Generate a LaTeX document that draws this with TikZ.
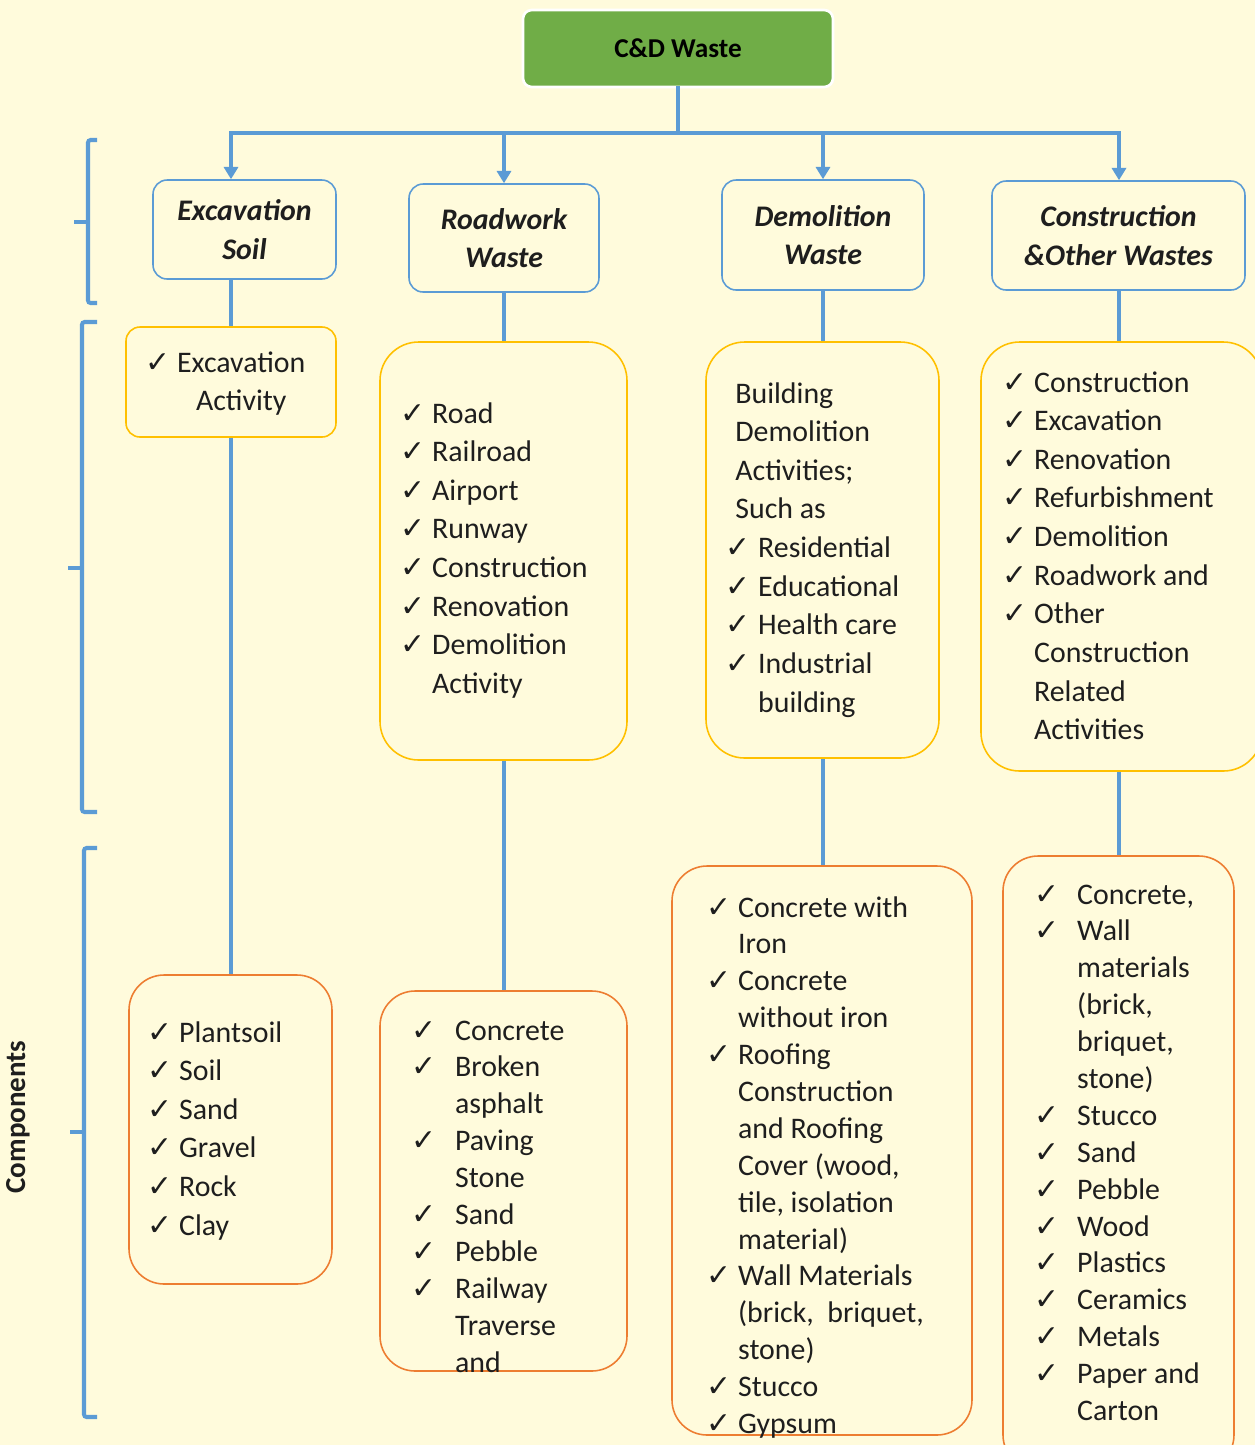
\documentclass[tikz,border=0pt]{standalone}
\usepackage{fontspec}
\setmainfont{Carlito}
\newfontfamily\ckfont{DejaVu Sans}
\usetikzlibrary{arrows.meta,fit}
\definecolor{bg}{HTML}{FFFBDC}
\definecolor{cdblue}{HTML}{5B9BD5}
\definecolor{cdgold}{HTML}{FFC000}
\definecolor{cdorange}{HTML}{ED7D31}
\definecolor{cdgreen}{HTML}{70AD47}
\definecolor{txt}{HTML}{1E1E1E}
\newcommand{\ck}{{\ckfont\fontsize{17}{22}\selectfont ✓}}
\newcommand{\cklist}[3][l]{\begin{tabular}[t]{@{}p{#2}@{}#1@{}}#3\end{tabular}}
\tikzset{
  link/.style={draw=cdblue, line width=2.3pt},
  arrow/.style={link, -{Triangle[width=8pt,length=7pt]}},
  trunk/.style={draw=cdblue, line width=2.8pt, line cap=rect},
  brace/.style={draw=cdblue, line width=2.3pt, rounded corners=1.5pt},
  topbox/.style={fill=cdgreen, draw=white, line width=1.5pt, rounded corners=5pt, inner sep=0pt,
    minimum width=6.2cm, minimum height=1.54cm,
    font=\fontsize{15.5}{18}\selectfont\bfseries, text=black},
  hbox/.style={draw=cdblue, line width=0.9pt, rounded corners=8pt, inner sep=0pt, align=center,
    font=\fontsize{17}{22}\selectfont\bfseries\itshape, text=txt},
  abox/.style={draw=cdgold, line width=0.9pt, rounded corners=#1, inner sep=0pt},
  abox/.default=22pt,
  cbox/.style={draw=cdorange, line width=0.9pt, rounded corners=#1, inner sep=0pt},
  cbox/.default=20pt,
  list/.style={anchor=base west, inner sep=0pt, text=txt, font=\fontsize{17}{#1}\selectfont},
  list/.default=22
}
\begin{document}
\begin{tikzpicture}[x=0.02cm, y=-0.02cm]
\useasboundingbox[fill=bg] (0,0) rectangle (1255,1445);

% top and the four kinds
\node[topbox] (cd) at (678,48.5) {C\&D Waste};
\node[hbox, minimum width=3.66cm, minimum height=1.98cm] (h1) at (244.5,229.5) {Excavation\\Soil};
\node[hbox, minimum width=3.8cm, minimum height=2.16cm] (h2) at (504,238) {Roadwork\\Waste};
\node[hbox, minimum width=4.04cm, minimum height=2.2cm] (h3) at (823,235) {Demolition\\Waste};
\node[hbox, minimum width=5.06cm, minimum height=2.18cm] (h4) at (1118.5,235.5) {Construction\\\&Other Wastes};

% sources
\node[abox=8pt, fit={(126,327) (336,437)}] (a1) {};
\node[abox, fit={(380,342) (627,760)}] (a2) {};
\node[abox, fit={(706,342) (939,758)}] (a3) {};
\node[abox, fit={(981,342) (1262,771)}] (a4) {};

% components
\node[cbox, fit={(129,975) (332,1284)}] (c1) {};
\node[cbox, fit={(380,991) (627,1371)}] (c2) {};
\node[cbox, fit={(672,866) (972,1435)}] (c3) {};
\node[cbox, fit={(1003,856) (1234,1470)}] (c4) {};

\node[list] (l1) at (145,372) {\cklist[c]{18.1pt}{\ck & Excavation\\ & Activity}};
\node[list] (l2) at (400,423) {\cklist{18.1pt}{\ck & Road\\ \ck & Railroad\\ \ck & Airport\\
  \ck & Runway\\ \ck & Construction\\ \ck & Renovation\\ \ck & Demolition\\ & Activity}};
\node[list] (l3) at (725,403) {\cklist{18.7pt}{\multicolumn{2}{@{\hspace{5.7pt}}l@{}}{Building}\\
  \multicolumn{2}{@{\hspace{5.7pt}}l@{}}{Demolition}\\
  \multicolumn{2}{@{\hspace{5.7pt}}l@{}}{Activities;}\\
  \multicolumn{2}{@{\hspace{5.7pt}}l@{}}{Such as}\\
  \ck & Residential\\ \ck & Educational\\ \ck & Health care\\ \ck & Industrial\\ & building}};
\node[list] (l4) at (1002,392) {\cklist{18.1pt}{\ck & Construction\\ \ck & Excavation\\
  \ck & Renovation\\ \ck & Refurbishment\\ \ck & Demolition\\ \ck & Roadwork and\\
  \ck & Other\\ & Construction\\ & Related\\ & Activities}};

\node[list] (m1) at (147,1042) {\cklist{18.1pt}{\ck & Plantsoil\\ \ck & Soil\\ \ck & Sand\\
  \ck & Gravel\\ \ck & Rock\\ \ck & Clay}};
\node[list=21] (m2) at (411,1040) {\cklist{24.9pt}{\ck & Concrete\\ \ck & Broken\\ & asphalt\\
  \ck & Paving\\ & Stone\\ \ck & Sand\\ \ck & Pebble\\ \ck & Railway\\ & Traverse\\ & and}};
\node[list=21] (m3) at (706,917) {\cklist{18.1pt}{\ck & Concrete with\\ & Iron\\
  \ck & Concrete\\ & without iron\\ \ck & Roofing\\ & Construction\\ & and Roofing\\
  & Cover (wood,\\ & tile, isolation\\ & material)\\ \ck & Wall Materials\\
  & (brick,\ \ briquet,\\ & stone)\\ \ck & Stucco\\ \ck & Gypsum}};
\node[list=21] (m4) at (1034,904) {\cklist{24.4pt}{\ck & Concrete,\\ \ck & Wall\\ & materials\\
  & (brick,\\ & briquet,\\ & stone)\\ \ck & Stucco\\ \ck & Sand\\ \ck & Pebble\\ \ck & Wood\\
  \ck & Plastics\\ \ck & Ceramics\\ \ck & Metals\\ \ck & Paper and\\ & Carton}};

\node[rotate=90, inner sep=0pt, font=\fontsize{16.5}{18}\selectfont\bfseries, text=txt] (comp) at (18,1117) {Components};

% connectors
\coordinate (col1) at (231,133);
\coordinate (col2) at (504,133);
\coordinate (col3) at (823,133);
\coordinate (col4) at (1119,133);
\draw[trunk] (cd.south) -- (cd.south |- col1);
\draw[trunk] (col1) -- (col4);
\foreach \i in {1,...,4}{
  \draw[arrow] (col\i) -- (col\i |- h\i.north);
  \draw[link] (col\i |- h\i.south) -- (col\i |- a\i.north);
  \draw[link] (col\i |- a\i.south) -- (col\i |- c\i.north);
}

% brackets on the left
\foreach \t/\b/\m/\x in {140/303/222/88, 322/812/568/82, 848/1417/1132/84}{
  \draw[brace] (97,\t) -- (\x,\t) -- (\x,\b) -- (97,\b);
  \draw[brace] (\x,\m) -- (\x-14,\m);
}
\end{tikzpicture}
\end{document}
